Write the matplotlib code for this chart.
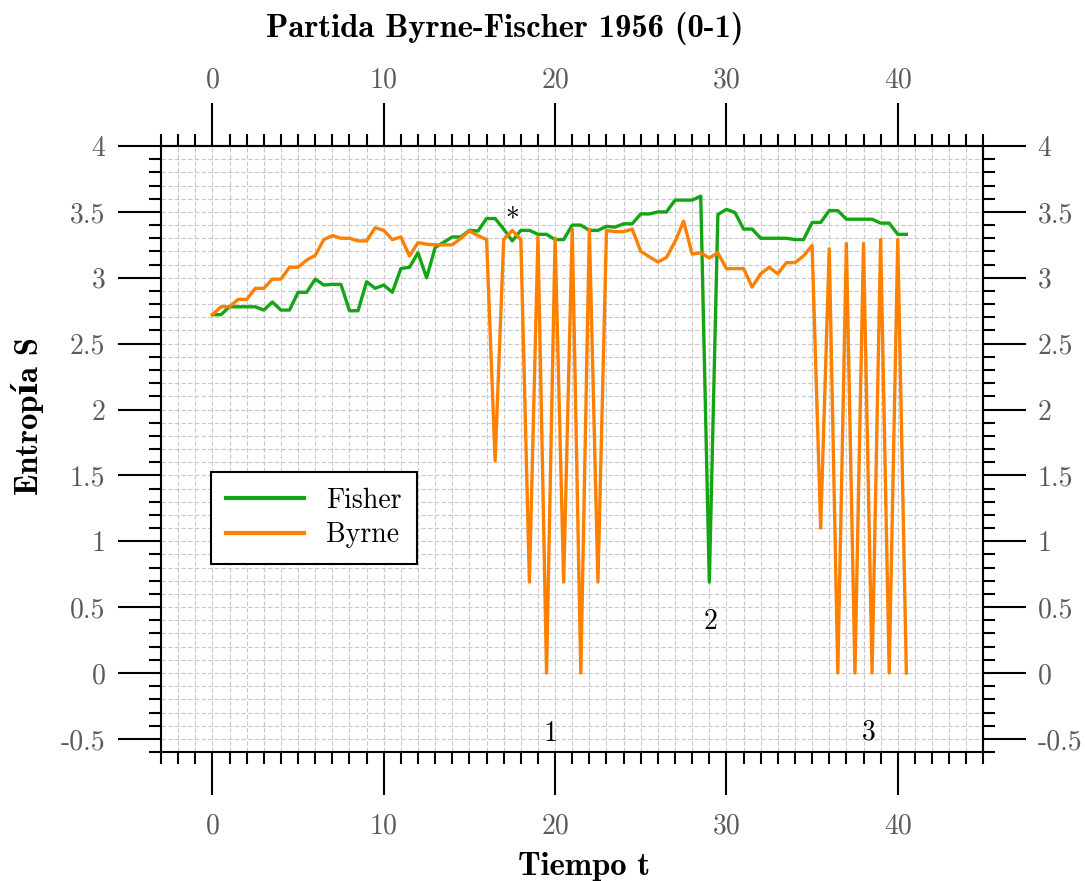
import numpy as np
import matplotlib
matplotlib.use("Agg")
import matplotlib.pyplot as plt
from matplotlib.ticker import MultipleLocator, FixedLocator

plt.rcParams['font.family'] = ['cmr10', 'DejaVu Serif']
plt.rcParams['axes.unicode_minus'] = False

# time in moves (half-move steps)
t = np.arange(0, 41, 0.5)

fisher = [2.72, 2.72, 2.78, 2.78, 2.78, 2.78, 2.755, 2.816, 2.755, 2.755,
          2.89, 2.89, 2.99, 2.945, 2.95, 2.95, 2.75, 2.75, 2.97, 2.92,
          2.945, 2.89, 3.07, 3.08, 3.19, 3.00, 3.23, 3.27, 3.31, 3.31,
          3.36, 3.355, 3.45, 3.45, 3.37, 3.28, 3.36, 3.36, 3.33, 3.33,
          3.29, 3.29, 3.40, 3.40, 3.36, 3.36, 3.39, 3.385, 3.41, 3.41,
          3.485, 3.485, 3.50, 3.50, 3.59, 3.59, 3.59, 3.62, 0.69, 3.48,
          3.52, 3.495, 3.37, 3.37, 3.30, 3.30, 3.30, 3.30, 3.29, 3.29,
          3.42, 3.42, 3.51, 3.51, 3.445, 3.445, 3.445, 3.445, 3.415, 3.415,
          3.33, 3.33]

byrne = [2.72, 2.78, 2.78, 2.836, 2.836, 2.92, 2.92, 2.99, 2.99, 3.08,
         3.08, 3.135, 3.17, 3.29, 3.32, 3.30, 3.30, 3.28, 3.28, 3.38,
         3.36, 3.29, 3.31, 3.166, 3.267, 3.255, 3.25, 3.25, 3.25, 3.30,
         3.356, 3.32, 3.29, 1.61, 3.29, 3.36, 3.29, 0.69, 3.31, 0.0,
         3.30, 0.69, 3.37, 0.0, 3.37, 0.69, 3.36, 3.35, 3.35, 3.37,
         3.20, 3.16, 3.12, 3.155, 3.275, 3.43, 3.18, 3.19, 3.15, 3.19,
         3.07, 3.07, 3.07, 2.93, 3.03, 3.08, 3.03, 3.115, 3.115, 3.166,
         3.245, 1.10, 3.22, 0.0, 3.26, 0.0, 3.26, 0.0, 3.29, 0.0,
         3.29, 0.0]

xticks = [0, 10, 20, 30, 40]
yticks = [-0.5, 0, 0.5, 1, 1.5, 2, 2.5, 3, 3.5, 4]
ylabels = ['-0.5', '0', '0.5', '1', '1.5', '2', '2.5', '3', '3.5', '4']

marks = ['*', '1', '2', '3']
mark_x = [17.5, 19.75, 29.05, 38.3]
mark_y = [3.44, -0.46, 0.39, -0.45]

green = '#14a514'
orange = '#ff8000'
gray = '#5a5a5a'
tick_fs = 20

fig = plt.figure(figsize=(10.85, 8.81), dpi=100)
ax = fig.add_axes([0.1484, 0.1464, 0.758, 0.6878])

ax.plot(t, fisher, color=green, lw=2.4, label='Fisher')
ax.plot(t, byrne, color=orange, lw=2.4, label='Byrne')

ax.set_xlim(-3, 45)
ax.set_ylim(-0.6, 4)
ax.xaxis.set_major_locator(FixedLocator(xticks))
ax.xaxis.set_minor_locator(MultipleLocator(1))
ax.set_yticks(yticks)
ax.set_yticklabels(ylabels)
ax.yaxis.set_minor_locator(MultipleLocator(0.1))

ax.set_axisbelow(True)
ax.grid(which='both', color='#c8c8c8', linestyle=(0, (4, 2)), linewidth=0.8)

for s in ax.spines.values():
    s.set_linewidth(1.5)

ax.tick_params(which='major', direction='out', length=31, width=1.5,
               labelsize=tick_fs, labelcolor=gray)
ax.tick_params(which='minor', direction='out', length=8.5, width=1.5)
ax.tick_params(axis='x', which='major', pad=13)
ax.tick_params(axis='y', which='major', pad=9)

# top and right axes
secx = ax.secondary_xaxis('top')
secx.xaxis.set_major_locator(FixedLocator(xticks))
secx.xaxis.set_minor_locator(MultipleLocator(1))
secx.tick_params(which='major', direction='out', length=31, width=1.5,
                 labelsize=tick_fs, labelcolor=gray, pad=7)
secx.tick_params(which='minor', direction='out', length=8.5, width=1.5)
secx.spines['top'].set_linewidth(1.5)

secy = ax.secondary_yaxis('right')
secy.set_yticks(yticks)
secy.set_yticklabels(ylabels)
secy.yaxis.set_minor_locator(MultipleLocator(0.1))
secy.tick_params(which='major', direction='out', length=31, width=1.5,
                 labelsize=tick_fs, labelcolor=gray, pad=8)
secy.tick_params(which='minor', direction='out', length=8.5, width=1.5)
secy.spines['right'].set_linewidth(1.5)

for m, mx, my in zip(marks, mark_x, mark_y):
    ax.text(mx, my, m, fontsize=20, ha='center', va='center', color='black')

leg = ax.legend(loc='upper left', bbox_to_anchor=(0.061, 0.462), fontsize=20,
                fancybox=False, edgecolor='black', framealpha=1,
                handlelength=2.8, handletextpad=0.8, borderpad=0.55,
                labelspacing=0.3, borderaxespad=0)
leg.get_frame().set_linewidth(1.5)
for h in leg.get_lines():
    h.set_linewidth(3)

bold = ['cmb10', 'DejaVu Serif']
fig.text(0.4654, 0.968, 'Partida Byrne-Fischer 1956 (0-1)', family=bold,
         weight='bold', fontsize=23.5, ha='center', va='center')
fig.text(0.538, 0.017, 'Tiempo t', family=bold, weight='bold', fontsize=23.5,
         ha='center', va='center')
fig.text(0.025, 0.528, 'Entropía S', family=bold, weight='bold', fontsize=23.5,
         ha='center', va='center', rotation=90)

fig.savefig('out.png', dpi=100)
